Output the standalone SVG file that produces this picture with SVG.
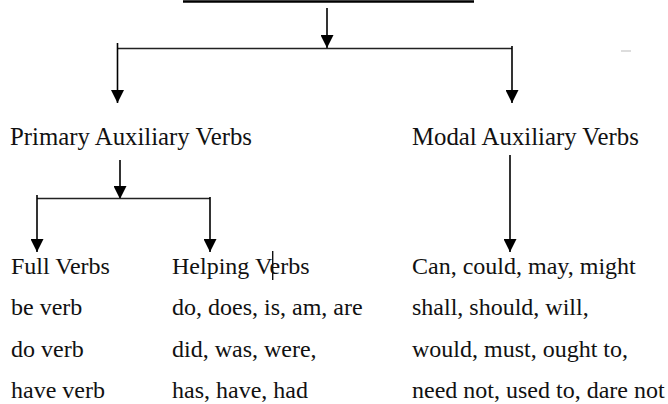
<svg xmlns="http://www.w3.org/2000/svg" width="668" height="404" viewBox="0 0 668 404">
  <defs>
    <marker id="ah" markerUnits="userSpaceOnUse" markerWidth="13" markerHeight="13" refX="13" refY="6.5" orient="auto">
      <path d="M0,0 L13,6.5 L0,13 z" fill="#000"/>
    </marker>
    <style>
      text { font-family: "Liberation Serif", "Times New Roman", serif; font-size: 24px; fill: #111; }
      .label { font-size: 24.8px; }
      .arrow { stroke: #000; stroke-width: 1.6; fill: none; marker-end: url(#ah); }
      .bar { stroke: #222; stroke-width: 1.3; fill: none; }
    </style>
  </defs>
  <rect width="668" height="404" fill="#fff"/>

  <g id="root">
    <line x1="183" y1="1.5" x2="474" y2="1.5" stroke="#000" stroke-width="2.6"/>
  </g>

  <g id="connectors">
    <line class="arrow" x1="327" y1="8" x2="327" y2="48"/>
    <line class="bar" x1="117" y1="48.5" x2="512" y2="48.5"/>
    <line class="arrow" x1="117.5" y1="43" x2="117.5" y2="103"/>
    <line class="arrow" x1="512" y1="46" x2="512" y2="103"/>
    <line class="arrow" x1="120" y1="160" x2="120" y2="199"/>
    <line class="bar" x1="37" y1="198.5" x2="210" y2="198.5"/>
    <line class="arrow" x1="37" y1="195" x2="37" y2="252"/>
    <line class="arrow" x1="210" y1="197" x2="210" y2="252"/>
    <line class="arrow" x1="510" y1="155" x2="510" y2="252"/>
    <line x1="621" y1="51" x2="631" y2="51" stroke="#bbb" stroke-width="1"/>
  </g>

  <g id="primary">
    <text class="label" x="10" y="145">Primary Auxiliary Verbs</text>
  </g>

  <g id="modal">
    <text class="label" x="412" y="145">Modal Auxiliary Verbs</text>
  </g>

  <g id="full-verbs">
    <text x="11" y="274">Full Verbs</text>
    <text x="11" y="315">be verb</text>
    <text x="11" y="357">do verb</text>
    <text x="11" y="398">have verb</text>
  </g>

  <g id="helping-verbs">
    <text x="172" y="274">Helping Verbs</text>
    <line x1="272.7" y1="251" x2="272.7" y2="280" stroke="#111" stroke-width="1.4"/>
    <text x="172" y="315">do, does, is, am, are</text>
    <text x="172" y="357">did, was, were,</text>
    <text x="172" y="398">has, have, had</text>
  </g>

  <g id="modal-verbs">
    <text x="412" y="274">Can, could, may, might</text>
    <text x="412" y="315">shall, should, will,</text>
    <text x="412" y="357">would, must, ought to,</text>
    <text x="412" y="398">need not, used to, dare not</text>
  </g>
</svg>
